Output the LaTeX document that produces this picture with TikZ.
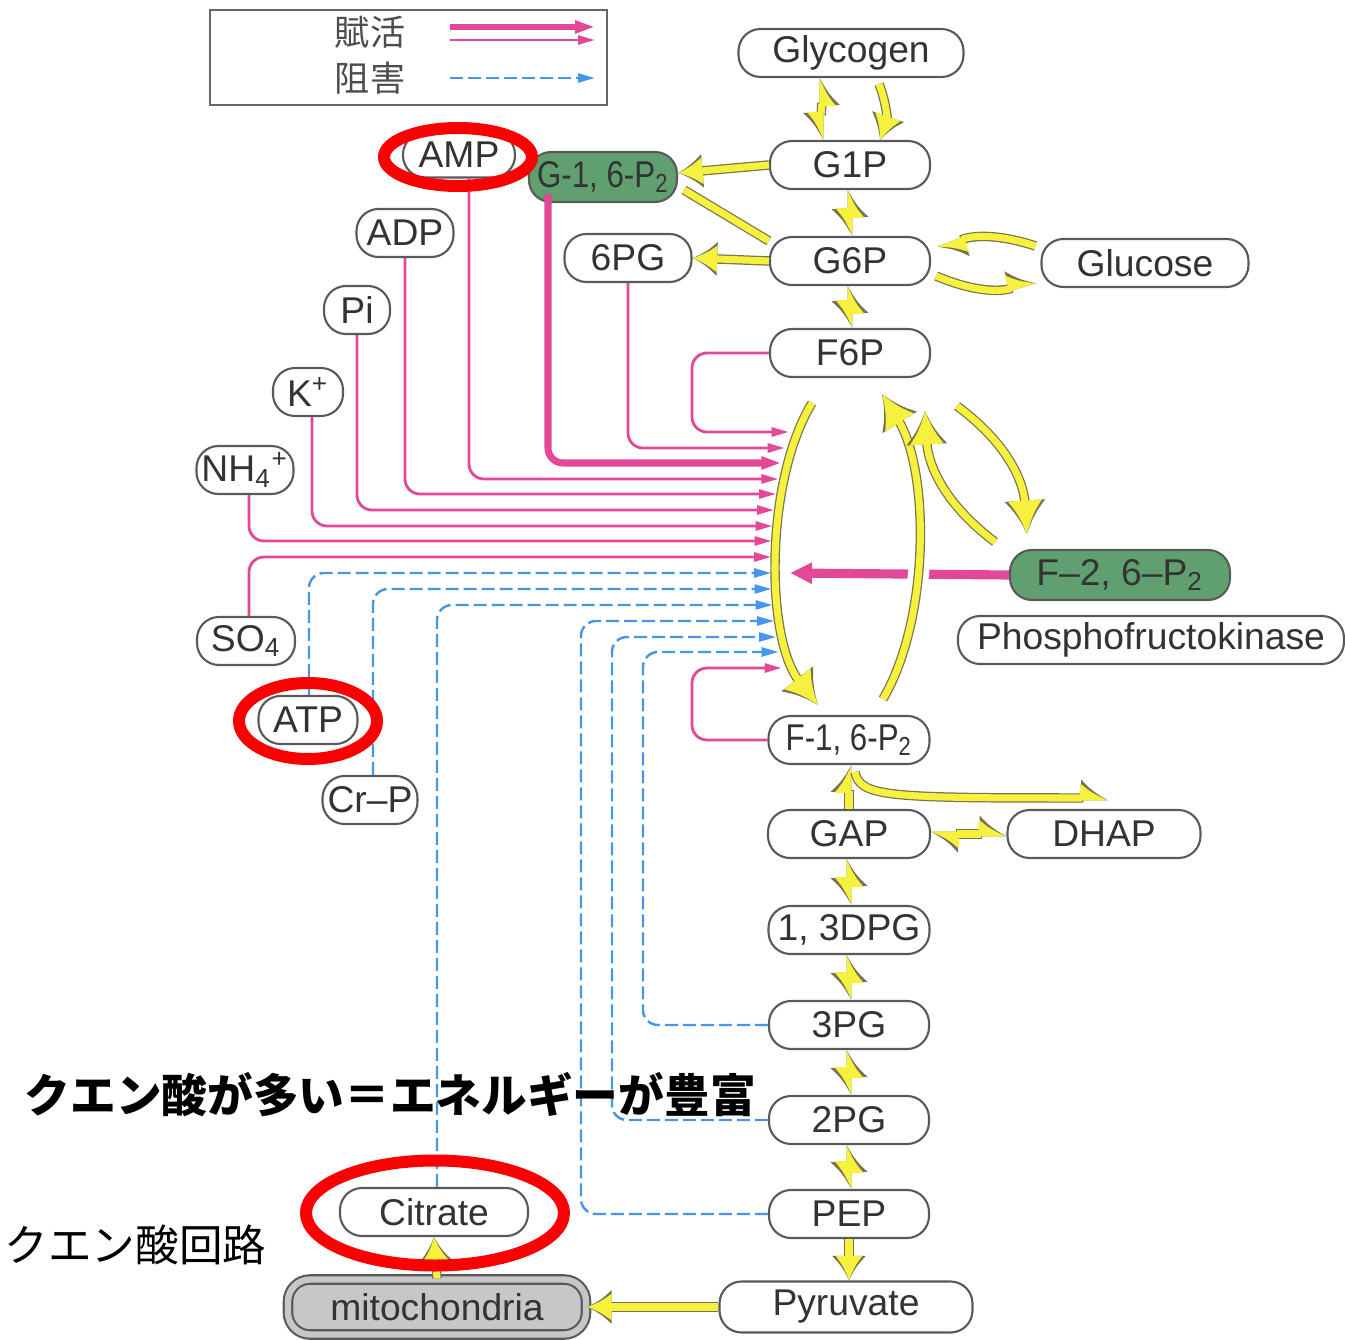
\documentclass[tikz,border=0pt]{standalone}
\usepackage{fontspec}
\setmainfont{Liberation Sans}
\newfontfamily\jpfont{Noto Sans CJK JP}
\usetikzlibrary{shapes.geometric, arrows.meta}
\definecolor{actpink}{RGB}{226,72,150}
\definecolor{inhblue}{RGB}{70,150,235}
\definecolor{yfill}{RGB}{246,241,60}
\definecolor{yedge}{RGB}{120,114,80}
\definecolor{effgreen}{RGB}{96,160,112}
\definecolor{ringred}{RGB}{250,0,0}
\newcommand{\narrowtext}[1]{\scalebox{0.84}[1]{#1}}
\tikzset{
met/.style={rectangle, rounded corners=0.22cm, draw=black!65, line width=0.6pt, fill=white, text=black!80, minimum height=0.48cm, inner xsep=0.05cm, inner ysep=0pt, font=\fontsize{10.6}{12}\selectfont}, % metabolite box
effector/.style={met, fill=effgreen}, % green effector box
mito/.style={met, fill=black!22, double=black!22, double distance=1.8pt, minimum height=0.55cm}, % organelle box
act/.style={actpink, line width=0.8pt, rounded corners=0.15cm, -{Triangle[length=0.17cm, width=0.09cm]}}, % activation
inh/.style={inhblue, line width=0.7pt, dash pattern=on 0.13cm off 0.05cm, rounded corners=0.15cm, -{Triangle[length=0.17cm, width=0.09cm]}}, % inhibition
yarr/.style={draw=yfill, line width=2pt, preaction={draw=yedge, line width=2.7pt}}, % yellow reaction arrow
ygap/.style={preaction={draw=white, line width=6pt}}, % leaves a gap in lines below
yt/.tip={Latex[length=7pt, width=2pt 3]},
ybig/.tip={Latex[length=9.5pt, width=4pt 3]},
yh/.tip={Latex[right, length=6.5pt, width=2pt 3.4]},
yhl/.tip={Latex[left, length=6.5pt, width=2pt 3.4]},
ring/.style={ellipse, draw=ringred, line width=0.12cm, inner sep=0pt}, % red highlight
lgtext/.style={text=black!70, font=\jpfont\fontsize{10}{12}\selectfont, inner sep=0pt},
}

\begin{document}
\begin{tikzpicture}
\useasboundingbox (0,0) rectangle (13.45,-13.40);

% legend
\node[draw=black!60, line width=0.6pt, minimum width=3.97cm, minimum height=0.95cm, inner sep=0pt] at (4.085,-0.575) (legend) {};
\node[lgtext] at (3.70,-0.32) (lact) {賦活};
\node[lgtext] at (3.70,-0.78) (linh) {阻害};
\coordinate (k1s) at (4.50,-0.27); \coordinate (k1e) at (5.95,-0.27);
\coordinate (k2s) at (4.50,-0.40); \coordinate (k2e) at (5.95,-0.40);
\coordinate (k3s) at (4.50,-0.78); \coordinate (k3e) at (5.95,-0.78);
\draw[act, line width=1.6pt, -{Triangle[length=0.2cm, width=0.12cm]}] (k1s) -- (k1e);
\draw[act] (k2s) -- (k2e);
\draw[inh] (k3s) -- (k3e);

% metabolites
\node[met, minimum width=2.25cm] at (8.51,-0.53) (glyc) {Glycogen};
\node[met, minimum width=1.60cm] at (8.50,-1.65) (g1p) {G1P};
\node[effector, minimum width=1.48cm, minimum height=0.50cm] at (6.03,-1.77) (g16) {\narrowtext{G-1, 6-P\textsubscript{2}}};
\node[met, minimum width=1.12cm, minimum height=0.45cm] at (4.59,-1.55) (amp) {AMP};
\node[met, minimum width=0.97cm] at (4.05,-2.33) (adp) {ADP};
\node[met, minimum width=1.27cm] at (6.28,-2.58) (pg6) {6PG};
\node[met, minimum width=1.60cm] at (8.50,-2.61) (g6p) {G6P};
\node[met, minimum width=2.07cm] at (11.45,-2.63) (glu) {Glucose};
\node[met, minimum width=0.66cm] at (3.57,-3.10) (pi) {Pi};
\node[met, minimum width=1.60cm] at (8.50,-3.53) (f6p) {F6P};
\node[met, minimum width=0.70cm] at (3.08,-3.92) (kion) {K\textsuperscript{+}};
\node[met, minimum width=0.96cm] at (2.45,-4.70) (nh4) {NH\textsubscript{4}\textsuperscript{+}};
\node[effector, minimum width=2.20cm, minimum height=0.50cm] at (11.20,-5.75) (f26) {F--2, 6--P\textsubscript{2}};
\node[met, minimum width=3.86cm] at (11.51,-6.40) (pfk) {Phosphofructokinase};
\node[met, minimum width=0.98cm] at (2.46,-6.41) (so4) {SO\textsubscript{4}};
\node[met, minimum width=0.99cm] at (3.08,-7.20) (atp) {ATP};
\node[met, minimum width=0.95cm] at (3.70,-8.00) (crp) {Cr--P};
\node[met, minimum width=1.61cm] at (8.49,-7.40) (f16) {\narrowtext{F-1, 6-P\textsubscript{2}}};
\node[met, minimum width=1.62cm] at (8.49,-8.34) (gap) {GAP};
\node[met, minimum width=1.93cm] at (11.04,-8.34) (dhap) {DHAP};
\node[met, minimum width=1.61cm] at (8.49,-9.30) (dpg) {1, 3DPG};
\node[met, minimum width=1.60cm] at (8.49,-10.25) (pg3) {3PG};
\node[met, minimum width=1.60cm] at (8.49,-11.20) (pg2) {2PG};
\node[met, minimum width=1.60cm] at (8.49,-12.14) (pep) {PEP};
\node[met, minimum width=2.53cm, minimum height=0.51cm] at (8.46,-13.07) (pyr) {Pyruvate};
\node[mito, minimum width=2.98cm] at (4.37,-13.07) (mito) {mitochondria};
\node[met, minimum width=1.88cm] at (4.34,-12.12) (cit) {Citrate};

% arrow tips along the left arc
\foreach \n/\y in {f6/4.32, pg6/4.48, g16/4.63, amp/4.79, adp/4.94, pi/5.10, k/5.26, nh/5.41, so/5.57, atp/5.73, crp/5.89, cit/6.05, pep/6.21, pgb/6.37, pga/6.52, f16/6.68}
  \coordinate (in-\n) at ({7.71+0.1*(\y-5.65)^2}, -\y);
\coordinate (in-f26) at (7.90,-5.73);
\coordinate (in-dhap) at (11.08,-7.98);

% activators
\draw[act] (f6p.west) -- (6.92,-3.53) |- (in-f6);
\draw[act] (pg6.south) |- (in-pg6);
\draw[act, line width=2pt, -{Triangle[length=0.2cm, width=0.12cm]}] ([xshift=-0.55cm, yshift=0.09cm]g16.south) |- (in-g16);
\draw[act] ([xshift=0.1cm]amp.south) |- (in-amp);
\draw[act] (adp.south) |- (in-adp);
\draw[act] (pi.south) |- (in-pi);
\draw[act] ([xshift=0.04cm]kion.south) |- (in-k);
\draw[act] ([xshift=0.04cm]nh4.south) |- (in-nh);
\draw[act] ([xshift=0.03cm]so4.north) |- (in-so);
\draw[act] (f16.west) -- (6.92,-7.40) |- (in-f16);
\draw[actpink, line width=2.6pt, -{Triangle[length=0.22cm, width=0.2cm]}] (f26.west) -- (in-f26);

% inhibitors
\draw[inh] ([xshift=0.01cm]atp.north) |- (in-atp);
\draw[inh] ([xshift=0.03cm]crp.north) |- (in-crp);
\draw[inh] ([xshift=0.03cm]cit.north) |- (in-cit);
\draw[inh] (pep.west) -- (5.81,-12.14) |- (in-pep);
\draw[inh] (pg2.west) -- (6.12,-11.20) |- (in-pgb);
\draw[inh] (pg3.west) -- (6.43,-10.25) |- (in-pga);

% pathway
\draw[yarr, {yh}-{yh}] ([xshift=-0.29cm]glyc.south) -- ([xshift=-0.29cm]g1p.north);
\draw[yarr, -yt] ([xshift=0.28cm, yshift=-0.06cm]glyc.south) to[bend left=20] ([xshift=0.30cm]g1p.north);
\draw[yarr, -yt] (g1p.west) -- ([yshift=0.04cm]g16.east);
\draw[yarr] ([xshift=0.06cm, yshift=-0.13cm]g16.east) -- ([yshift=0.2cm]g6p.west);
\draw (g1p) edge[yarr, {yh}-{yh}] (g6p);
\draw[yarr, -yt] (g6p.west) -- (pg6.east);
\draw[yarr, -yhl] ([xshift=-0.05cm, yshift=0.17cm]glu.west) to[bend right=20] ([xshift=0.07cm, yshift=0.12cm]g6p.east);
\draw[yarr, -yhl] ([xshift=0.05cm, yshift=-0.15cm]g6p.east) to[bend right=20] ([xshift=-0.05cm, yshift=-0.18cm]glu.west);
\draw (g6p) edge[yarr, {yh}-{yh}] (f6p);
\draw[yarr, -ybig] ([xshift=-0.38cm, yshift=-0.25cm]f6p.south) .. controls +(-0.47,-0.77) and +(-0.53,0.67) .. ([xshift=-0.31cm, yshift=0.10cm]f16.north);
\draw[ygap, yarr, -ybig] ([xshift=0.34cm, yshift=0.16cm]f16.north) .. controls +(0.47,0.80) and +(0.48,-0.77) .. ([xshift=0.32cm, yshift=-0.16cm]f6p.south);
\draw[yarr, -ybig] ([xshift=-1.25cm, yshift=0.07cm]f26.north) to[bend left=25] ([xshift=0.75cm, yshift=-0.33cm]f6p.south);
\draw[yarr, -ybig] ([xshift=1.07cm, yshift=-0.28cm]f6p.south) to[bend left=25] ([xshift=-0.93cm, yshift=0.15cm]f26.north);
\draw[yarr, -yhl] (gap.north) -- (f16.south);
\draw[yarr, -yhl] ([xshift=0.06cm, yshift=-0.07cm]f16.south) .. controls +(0.05,-0.25) and +(-2.2,0) .. (in-dhap);
\draw[yarr, {yhl}-{yhl}] (gap.east) -- (dhap.west);
\draw (gap) edge[yarr, {yh}-{yh}] (dpg);
\draw (dpg) edge[yarr, {yh}-{yh}] (pg3);
\draw (pg3) edge[yarr, {yh}-{yh}] (pg2);
\draw (pg2) edge[yarr, {yh}-{yh}] (pep);
\draw[yarr, -yt] (pep.south) -- ([xshift=0.03cm]pyr.north);
\draw[yarr, -yt] (pyr.west) -- (mito.east);
\draw[yarr, -yt] (mito.north) -- (cit.south);

% highlights
\node[ring, minimum width=1.48cm, minimum height=0.58cm] at (4.58,-1.57) (ampring) {};
\node[ring, minimum width=1.38cm, minimum height=0.76cm] at (3.08,-7.21) (atpring) {};
\node[ring, minimum width=2.58cm, minimum height=1.05cm] at (4.35,-12.13) (citring) {};

% notes
\node[anchor=west, inner sep=0pt, font=\jpfont\bfseries\fontsize{13}{15}\selectfont] at (0.24,-10.95) (note) {クエン酸が多い＝エネルギーが豊富};
\node[anchor=west, inner sep=0pt, font=\jpfont\fontsize{12.4}{14}\selectfont] at (0.04,-12.45) (tca) {クエン酸回路};

\end{tikzpicture}
\end{document}
